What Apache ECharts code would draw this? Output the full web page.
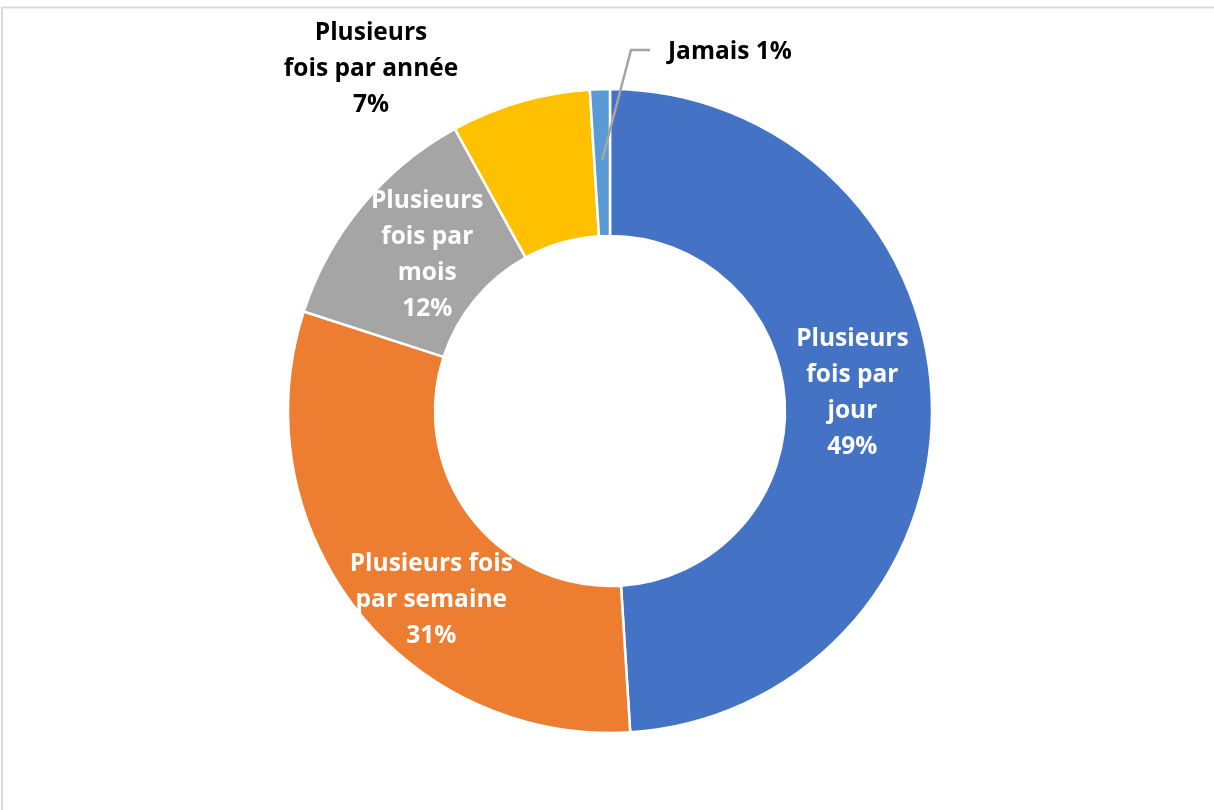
<!DOCTYPE html>
<html>
<head>
<meta charset="utf-8">
<script src="https://cdn.jsdelivr.net/npm/echarts@6/dist/echarts.min.js"></script>
<style>
html,body{margin:0;padding:0;background:#fff;}
#chart{width:1214px;height:810px;}
</style>
</head>
<body>
<div id="chart"></div>
<script>
const categories = ['Plusieurs fois par jour', 'Plusieurs fois par semaine', 'Plusieurs fois par mois', 'Plusieurs fois par année', 'Jamais'];
const values = [49, 31, 12, 7, 1];
const labelTexts = ['Plusieurs\nfois par\njour', 'Plusieurs fois\npar semaine', 'Plusieurs\nfois par\nmois', 'Plusieurs\nfois par année', 'Jamais'];
const colors = ['#4472C4', '#ED7D31', '#A5A5A5', '#FFC000', '#5B9BD5'];

const FONT = '"Open Sans", Lato, sans-serif';
const CENTER = [610, 411];
const RADII = [175, 322];
const chart = echarts.init(document.getElementById('chart'), null, {renderer: 'canvas'});

const data = categories.map((c, i) => {
  const outside = i >= 3;
  return {
    name: c,
    value: values[i],
    itemStyle: {color: colors[i]},
    label: {
      position: outside ? 'outside' : 'inside',
      color: outside ? '#000' : '#fff'
    },
    labelLine: {show: false}
  };
});

// leader line for the smallest slice: starts inside the slice at its mid angle
const total = values.reduce((a, b) => a + b, 0);
const before = values.slice(0, 4).reduce((a, b) => a + b, 0);
const midAng = ((before + values[4] / 2) / total) * 2 * Math.PI; // clockwise from top
const rLine = 251;
const p0 = [CENTER[0] + rLine * Math.sin(midAng), CENTER[1] - rLine * Math.cos(midAng)];

chart.setOption({
  animation: false,
  backgroundColor: '#fff',
  graphic: [{
    type: 'rect',
    shape: {x: 2, y: 7.5, width: 1400, height: 1000},
    style: {fill: 'none', stroke: '#D9D9D9', lineWidth: 2},
    silent: true
  }, {
    type: 'polyline',
    shape: {points: [p0, [631, 50], [650, 50]]},
    style: {fill: 'none', stroke: '#A5A5A5', lineWidth: 2.5},
    z: 100,
    silent: true
  }],
  series: [{
    type: 'pie',
    center: CENTER,
    radius: RADII,
    startAngle: 90,
    clockwise: true,
    data: data,
    itemStyle: {borderColor: '#fff', borderWidth: 2.5},
    label: {
      show: true,
      fontFamily: FONT,
      fontWeight: 'bold',
      fontSize: 24.5,
      lineHeight: 36,
      align: 'center',
      formatter: p => p.dataIndex === 4 ? labelTexts[4] + ' ' + p.value + '%' : labelTexts[p.dataIndex] + '\n' + p.value + '%'
    },
    labelLayout: function (p) {
      if (p.dataIndex === 0) return {dx: -9, dy: -10};
      if (p.dataIndex === 1) return {dx: 20, dy: 35};
      if (p.dataIndex === 2) return {dx: 11, dy: 4};
      if (p.dataIndex === 3) return {x: 371, y: 69, align: 'center', verticalAlign: 'middle'};
      if (p.dataIndex === 4) return {x: 668, y: 52, align: 'left', verticalAlign: 'middle'};
    }
  }]
});
</script>
</body>
</html>
